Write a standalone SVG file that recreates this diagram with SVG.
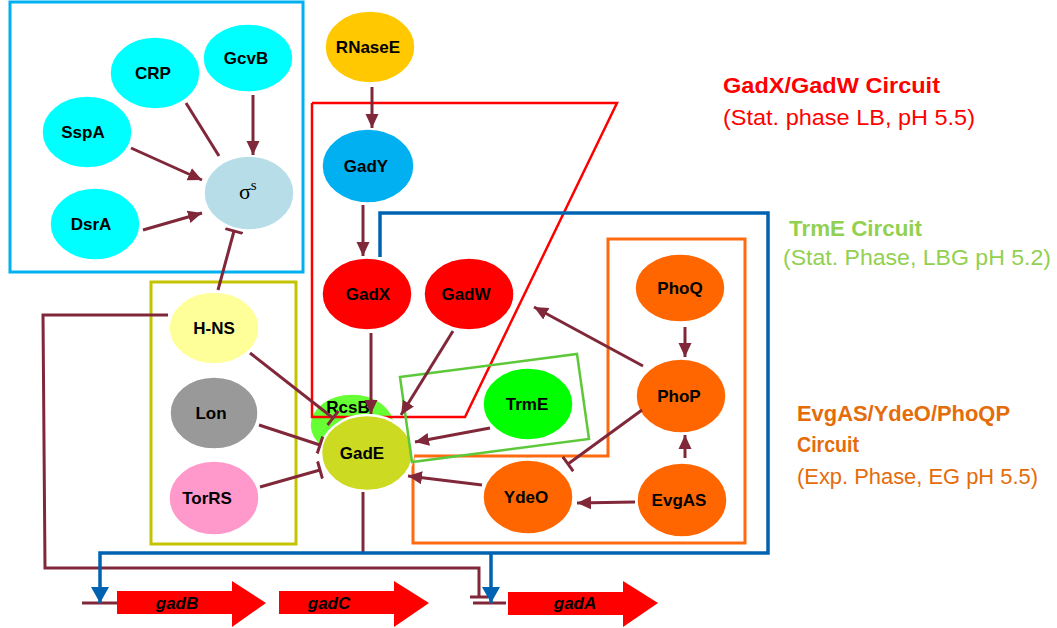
<svg xmlns="http://www.w3.org/2000/svg" width="1057" height="628" viewBox="0 0 1057 628">
<style>
.n{stroke:#fff;stroke-width:1.5}
.lb{font-family:"Liberation Sans",Arial,sans-serif;font-weight:bold;font-size:17px;fill:#000;text-anchor:middle}
.c{fill:none;stroke:#80283A;stroke-width:3}
.b{fill:none;stroke:#0063B1;stroke-width:3.5}
.box{fill:none;stroke-width:3}
.gene{fill:#FF0000}
.gt{font-family:"Liberation Sans",Arial,sans-serif;font-weight:bold;font-style:italic;font-size:17px;fill:#000;text-anchor:middle}
.t{font-family:"Liberation Sans",Arial,sans-serif;font-size:22px}
.tb{font-weight:bold}
</style>
<defs>
<marker id="ah" viewBox="0 0 14 14" refX="14" refY="7" markerWidth="14" markerHeight="14" markerUnits="userSpaceOnUse" orient="auto"><path d="M0,0.5 L14,7 L0,13.5 z" fill="#80283A"/></marker>
<marker id="tb" viewBox="0 0 4 18" refX="2" refY="9" markerWidth="4" markerHeight="18" markerUnits="userSpaceOnUse" orient="auto"><rect x="0.5" y="0" width="3" height="18" fill="#80283A"/></marker>
<marker id="bh" viewBox="0 0 16 18" refX="16" refY="9" markerWidth="16" markerHeight="18" markerUnits="userSpaceOnUse" orient="auto"><path d="M0,0 L16,9 L0,18 z" fill="#0063B1"/></marker>
</defs>

<!-- circuit boxes -->
<g id="boxes">
<rect x="10" y="2" width="293" height="270" class="box" stroke="#00B0F0"/>
<rect x="151" y="282" width="145" height="262" class="box" stroke="#C3C300"/>
<polygon points="608,239 745,239 745,543 413,543 413,456 608,456" class="box" stroke="#FF6A10" stroke-width="2.5"/>
</g>

<!-- nodes -->
<g id="GcvB"><ellipse cx="248" cy="58" rx="45" ry="34" fill="#00FFFF" class="n"/><text x="246" y="64" class="lb">GcvB</text></g>
<g id="CRP"><ellipse cx="155" cy="73" rx="45" ry="36" fill="#00FFFF" class="n"/><text x="153" y="79" class="lb">CRP</text></g>
<g id="SspA"><ellipse cx="87" cy="132" rx="45" ry="36" fill="#00FFFF" class="n"/><text x="83" y="138" class="lb">SspA</text></g>
<g id="DsrA"><ellipse cx="95" cy="224" rx="45" ry="36" fill="#00FFFF" class="n"/><text x="91" y="230" class="lb">DsrA</text></g>
<g id="sigmaS"><ellipse cx="249" cy="193" rx="45" ry="37" fill="#B7DEE8" class="n"/><text x="239" y="199" font-family="Liberation Serif,serif" font-size="22" fill="#000">σ<tspan font-size="15" dy="-9">s</tspan></text></g>
<g id="RNaseE"><ellipse cx="370" cy="47" rx="45" ry="36" fill="#FFC800" class="n"/><text x="368" y="53" class="lb">RNaseE</text></g>
<g id="GadY"><ellipse cx="368" cy="166" rx="46" ry="37" fill="#00B0F0" class="n"/><text x="366" y="172" class="lb">GadY</text></g>
<g id="GadX"><ellipse cx="367" cy="294" rx="45" ry="36" fill="#FF0000" class="n"/><text x="368" y="300" class="lb">GadX</text></g>
<g id="GadW"><ellipse cx="469" cy="294" rx="45" ry="36" fill="#FF0000" class="n"/><text x="466" y="300" class="lb">GadW</text></g>
<g id="H-NS"><ellipse cx="214" cy="328" rx="45" ry="36" fill="#FFFF99" class="n"/><text x="214" y="334" class="lb">H-NS</text></g>
<g id="Lon"><ellipse cx="214" cy="413" rx="44" ry="36" fill="#999999" class="n"/><text x="211" y="419" class="lb">Lon</text></g>
<g id="TorRS"><ellipse cx="214" cy="498" rx="45" ry="37" fill="#FF99CC" class="n"/><text x="207" y="504" class="lb">TorRS</text></g>
<g id="RcsB"><ellipse cx="352" cy="425" rx="42" ry="31" fill="#66FF33" class="n"/><text x="348" y="413" class="lb">RcsB</text></g>
<g id="redbox"><polyline points="312,103 617,103 465,417 312,417 312,103" fill="none" stroke="#FF0000" stroke-width="2.5"/></g>
<g id="GadE"><ellipse cx="367" cy="453" rx="46" ry="38" fill="#CCDA22" stroke="#fff" stroke-width="2.5"/><text x="362" y="459" class="lb">GadE</text></g>
<g id="TrmE"><ellipse cx="528" cy="404" rx="45" ry="36" fill="#00FF00" class="n"/><text x="527" y="410" class="lb">TrmE</text></g>
<g id="greenbox"><polygon points="400,377 577,354 589,439 412,462" fill="none" stroke="#5CC83A" stroke-width="2.5"/></g>
<g id="YdeO"><ellipse cx="528" cy="497" rx="45" ry="37" fill="#FF6600" class="n"/><text x="526" y="503" class="lb">YdeO</text></g>
<g id="PhoQ"><ellipse cx="680" cy="288" rx="45" ry="34" fill="#FF6600" class="n"/><text x="680" y="294" class="lb">PhoQ</text></g>
<g id="PhoP"><ellipse cx="681" cy="396" rx="45" ry="37" fill="#FF6600" class="n"/><text x="679" y="402" class="lb">PhoP</text></g>
<g id="EvgAS"><ellipse cx="682" cy="500" rx="45" ry="37" fill="#FF6600" class="n"/><text x="679" y="506" class="lb">EvgAS</text></g>

<!-- connectors -->
<g id="connectors">
<line x1="253" y1="95" x2="253" y2="155" class="c" marker-end="url(#ah)"/>
<line x1="186" y1="103" x2="219" y2="156" class="c"/>
<line x1="131" y1="148" x2="202" y2="180" class="c" marker-end="url(#ah)"/>
<line x1="143" y1="230" x2="202" y2="213" class="c" marker-end="url(#ah)"/>
<line x1="218" y1="290" x2="234" y2="231" class="c" marker-end="url(#tb)"/>
<line x1="372" y1="87" x2="372" y2="128" class="c" marker-end="url(#ah)"/>
<line x1="363" y1="205" x2="363" y2="256" class="c" marker-end="url(#ah)"/>
<line x1="371" y1="333" x2="371" y2="414" class="c" marker-end="url(#ah)"/>
<line x1="453" y1="331" x2="401" y2="415" class="c" marker-end="url(#ah)"/>
<line x1="250" y1="353" x2="333" y2="418" class="c" marker-end="url(#tb)"/>
<line x1="259" y1="425" x2="320" y2="445" class="c" marker-end="url(#tb)"/>
<line x1="260" y1="487" x2="320" y2="470" class="c" marker-end="url(#tb)"/>
<line x1="490" y1="428" x2="415" y2="442" class="c" marker-end="url(#ah)"/>
<line x1="482" y1="485" x2="408" y2="476" class="c" marker-end="url(#ah)"/>
<line x1="635" y1="502" x2="577" y2="503" class="c" marker-end="url(#ah)"/>
<line x1="685" y1="458" x2="685" y2="435" class="c" marker-end="url(#ah)"/>
<line x1="685" y1="327" x2="685" y2="357" class="c" marker-end="url(#ah)"/>
<line x1="643" y1="366" x2="534" y2="307" class="c" marker-end="url(#ah)"/>
<line x1="642" y1="410" x2="568" y2="464" class="c" marker-end="url(#tb)"/>
<polyline points="168,315 43,315 45,568 479,568 479,597" class="c" marker-end="url(#tb)"/>
<line x1="363" y1="492" x2="363" y2="553" class="c"/>
<line x1="82" y1="603" x2="117" y2="603" class="c"/>
<line x1="473" y1="603" x2="506" y2="603" class="c"/>
<polyline points="380,257 380,213 768,213 768,553 100,553 100,603" class="b" marker-end="url(#bh)"/>
<line x1="491" y1="553" x2="491" y2="603" class="b" marker-end="url(#bh)"/>
</g>

<!-- genes -->
<g id="gadB"><polygon points="117,591 232,591 232,581 266,603 232,627 232,614 117,614" class="gene"/><text x="177" y="609" class="gt">gadB</text></g>
<g id="gadC"><polygon points="279,591 394,591 394,581 429,603 394,627 394,614 279,614" class="gene"/><text x="329" y="609" class="gt">gadC</text></g>
<g id="gadA"><polygon points="508,592 623,592 623,581 658,603 623,627 623,615 508,615" class="gene"/><text x="575" y="609" class="gt">gadA</text></g>

<!-- circuit labels -->
<g id="labels">
<text x="723" y="93" class="t tb" fill="#FF0000" font-size="23" textLength="217" lengthAdjust="spacingAndGlyphs">GadX/GadW Circuit</text>
<text x="723" y="125" class="t" fill="#FF0000" textLength="252" lengthAdjust="spacingAndGlyphs">(Stat. phase LB, pH 5.5)</text>
<text x="789" y="236" class="t tb" fill="#92D050" textLength="133" lengthAdjust="spacingAndGlyphs">TrmE Circuit</text>
<text x="783" y="265" class="t" fill="#92D050" textLength="268" lengthAdjust="spacingAndGlyphs">(Stat. Phase, LBG pH 5.2)</text>
<text x="797" y="421" class="t tb" fill="#E46C0A" textLength="213" lengthAdjust="spacingAndGlyphs">EvgAS/YdeO/PhoQP</text>
<text x="797" y="452" class="t tb" fill="#E46C0A" textLength="62" lengthAdjust="spacingAndGlyphs">Circuit</text>
<text x="797" y="484" class="t" fill="#E46C0A" textLength="241" lengthAdjust="spacingAndGlyphs">(Exp. Phase, EG pH 5.5)</text>
</g>
</svg>
